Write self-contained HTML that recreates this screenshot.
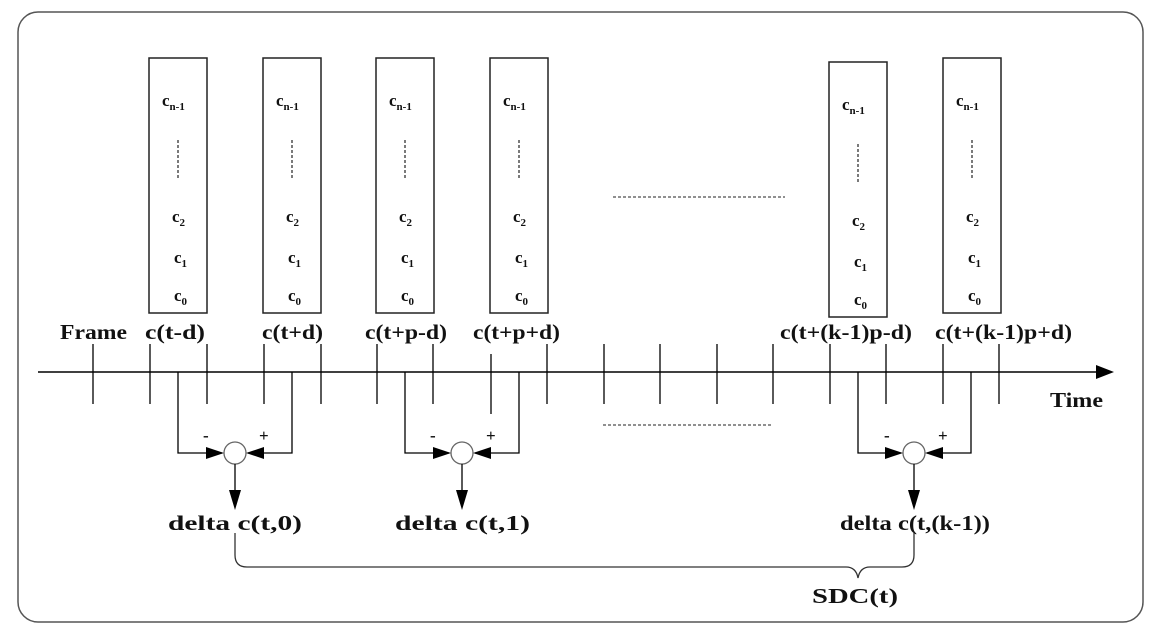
<!DOCTYPE html>
<html><head><meta charset="utf-8"><style>
html,body{margin:0;padding:0;background:#fff;}
svg{display:block;}
text{font-family:"Liberation Serif",serif;font-weight:bold;fill:#111;}
</style></head><body>
<svg width="1158" height="641" viewBox="0 0 1158 641" xmlns="http://www.w3.org/2000/svg">
<defs>
<g id="box">
<rect x="0" y="0" width="58" height="255" fill="#fff" stroke="#222" stroke-width="1.5"/>
<text x="13" y="48" font-size="17">c<tspan font-size="11" dy="4">n-1</tspan></text>
<line x1="29" y1="82" x2="29" y2="122" stroke="#222" stroke-width="1.2" stroke-dasharray="3,2"/>
<text x="23" y="164" font-size="17">c<tspan font-size="11" dy="4">2</tspan></text>
<text x="25" y="205" font-size="17">c<tspan font-size="11" dy="4">1</tspan></text>
<text x="25" y="243" font-size="17">c<tspan font-size="11" dy="4">0</tspan></text>
</g>
</defs>
<rect x="18" y="12" width="1125" height="610" rx="20" fill="#fff" stroke="#555" stroke-width="1.5"/>
<use href="#box" x="149" y="58"/>
<use href="#box" x="263" y="58"/>
<use href="#box" x="376" y="58"/>
<use href="#box" x="490" y="58"/>
<use href="#box" x="829" y="62"/>
<use href="#box" x="943" y="58"/>
<line x1="613" y1="197" x2="785" y2="197" stroke="#222" stroke-width="1" stroke-dasharray="3,2"/>
<line x1="603" y1="425" x2="773" y2="425" stroke="#222" stroke-width="1" stroke-dasharray="3,2"/>
<line x1="38" y1="372" x2="1100" y2="372" stroke="#000" stroke-width="1.5"/>
<path d="M1096,365 L1114,372 L1096,379 z" fill="#000"/>
<g stroke="#000" stroke-width="1.3">
<line x1="93" y1="344" x2="93" y2="404"/>
<line x1="150" y1="344" x2="150" y2="404"/>
<line x1="207" y1="344" x2="207" y2="404"/>
<line x1="264" y1="344" x2="264" y2="404"/>
<line x1="321" y1="344" x2="321" y2="404"/>
<line x1="377" y1="344" x2="377" y2="404"/>
<line x1="433" y1="344" x2="433" y2="404"/>
<line x1="491" y1="354" x2="491" y2="414"/>
<line x1="547" y1="344" x2="547" y2="404"/>
<line x1="604" y1="344" x2="604" y2="404"/>
<line x1="660" y1="344" x2="660" y2="404"/>
<line x1="717" y1="344" x2="717" y2="404"/>
<line x1="773" y1="344" x2="773" y2="404"/>
<line x1="830" y1="344" x2="830" y2="404"/>
<line x1="886" y1="344" x2="886" y2="404"/>
<line x1="943" y1="344" x2="943" y2="404"/>
<line x1="999" y1="344" x2="999" y2="404"/>
</g>
<g font-size="21" lengthAdjust="spacingAndGlyphs">
<text x="60" y="339" textLength="67" lengthAdjust="spacingAndGlyphs">Frame</text>
<text x="145" y="339" textLength="60" lengthAdjust="spacingAndGlyphs">c(t-d)</text>
<text x="262" y="339" textLength="61" lengthAdjust="spacingAndGlyphs">c(t+d)</text>
<text x="365" y="339" textLength="82" lengthAdjust="spacingAndGlyphs">c(t+p-d)</text>
<text x="473" y="339" textLength="87" lengthAdjust="spacingAndGlyphs">c(t+p+d)</text>
<text x="780" y="339" textLength="132" lengthAdjust="spacingAndGlyphs">c(t+(k-1)p-d)</text>
<text x="935" y="339" textLength="137" lengthAdjust="spacingAndGlyphs">c(t+(k-1)p+d)</text>
<text x="1050" y="407" textLength="53" lengthAdjust="spacingAndGlyphs">Time</text>
<text x="168" y="530" textLength="134" lengthAdjust="spacingAndGlyphs">delta c(t,0)</text>
<text x="395" y="530" textLength="135" lengthAdjust="spacingAndGlyphs">delta c(t,1)</text>
<text x="840" y="530" textLength="150" lengthAdjust="spacingAndGlyphs">delta c(t,(k-1))</text>
<text x="812" y="603" textLength="86" lengthAdjust="spacingAndGlyphs">SDC(t)</text>
</g>
<g fill="none" stroke="#000" stroke-width="1.3">
<path d="M178,372 V453 H222"/><path d="M292,372 V453 H248"/>
<path d="M405,372 V453 H449"/><path d="M519,372 V453 H475"/>
<path d="M858,372 V453 H901"/><path d="M971,372 V453 H927"/>
<circle cx="235" cy="453" r="11" stroke="#666"/>
<circle cx="462" cy="453" r="11" stroke="#666"/>
<circle cx="914" cy="453" r="11" stroke="#666"/>
<path d="M235,464 V492"/><path d="M462,464 V492"/><path d="M914,464 V492"/>
</g>
<g fill="#000">
<path d="M224,453 L206,447 L206,459 z"/><path d="M246,453 L264,447 L264,459 z"/>
<path d="M451,453 L433,447 L433,459 z"/><path d="M473,453 L491,447 L491,459 z"/>
<path d="M903,453 L885,447 L885,459 z"/><path d="M925,453 L943,447 L943,459 z"/>
<path d="M229,490 L241,490 L235,510 z"/><path d="M456,490 L468,490 L462,510 z"/><path d="M908,490 L920,490 L914,510 z"/>
</g>
<g font-size="17">
<text x="203" y="441">-</text><text x="259" y="441">+</text>
<text x="430" y="441">-</text><text x="486" y="441">+</text>
<text x="884" y="441">-</text><text x="938" y="441">+</text>
</g>
<path d="M235,533 V555 Q235,567 247,567 H846 Q856,567 858,578 Q860,567 870,567 H902 Q914,567 914,555 V533" fill="none" stroke="#333" stroke-width="1.3"/>
</svg>
</body></html>
